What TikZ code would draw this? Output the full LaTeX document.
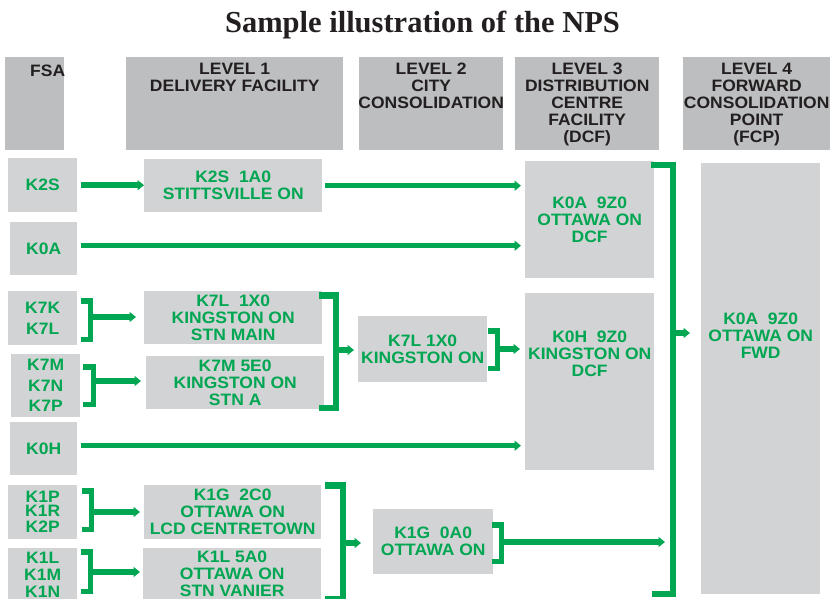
\documentclass[tikz,border=0pt]{standalone}
\usepackage{fontspec}
\setmainfont{Liberation Sans}
\newfontfamily\titlefont{Liberation Serif}
\newfontfamily\boxfont{Liberation Sans}[FakeStretch=1.06]
\usepackage{xcolor}
\usetikzlibrary{arrows.meta}
\usetikzlibrary{positioning}
\definecolor{npsgreen}{HTML}{00A651}
\definecolor{boxgray}{HTML}{D1D3D4}
\definecolor{headgray}{HTML}{BCBEC0}
\definecolor{inkdark}{HTML}{231F20}

\begin{document}
\begin{tikzpicture}[x=1pt, y=-1pt, >={Triangle[length=6.5pt,width=10pt]},
  feed/.style={->, draw=npsgreen, line width=5.5pt},
  brace/.style={draw=npsgreen, line width=5.5pt, line join=miter},
  bigbrace/.style={brace, line width=6.5pt}]
\tikzstyle{box} = [fill=boxgray, anchor=north west, inner sep=0pt, align=center, text=npsgreen, font=\boxfont\fontsize{16.5}{17}\selectfont\bfseries]
\tikzstyle{head} = [fill=headgray, anchor=north west, inner sep=0pt]
\tikzstyle{headtext} = [inner sep=0pt, align=center, text=inkdark, font=\boxfont\fontsize{16.5}{17}\selectfont\bfseries]

\useasboundingbox (0,0) rectangle (830,599);

\node[font=\titlefont\fontsize{30.5}{31}\selectfont\bfseries, text=inkdark, anchor=base] (title) at (422.5,33) {Sample illustration of the NPS};

% column heads
\node[head, minimum width=59pt, minimum height=93pt] (hFSA) at (5,57) {};
\node[head, minimum width=217pt, minimum height=93pt] (hL1) at (126,57) {};
\node[head, minimum width=144pt, minimum height=93pt] (hL2) at (359,57) {};
\node[head, minimum width=144pt, minimum height=93pt] (hL3) at (515,57) {};
\node[head, minimum width=147pt, minimum height=93pt] (hL4) at (683,57) {};
\node[headtext, below right=8pt and 25pt of hFSA.north west] {FSA};
\node[headtext, below=6pt of hL1.north] {LEVEL 1\\DELIVERY FACILITY};
\node[headtext, below=6pt of hL2.north] {LEVEL 2\\CITY\\CONSOLIDATION};
\node[headtext, below=6pt of hL3.north] {LEVEL 3\\DISTRIBUTION\\CENTRE\\FACILITY\\(DCF)};
\node[headtext, below=6pt of hL4.north] {LEVEL 4\\FORWARD\\CONSOLIDATION\\POINT\\(FCP)};

% FSA
\node[box, minimum width=69pt, minimum height=54pt] (fK2S) at (8,158) {K2S};
\node[box, minimum width=67pt, minimum height=53pt] (fK0A) at (10,222) {K0A};
\node[box, minimum width=69pt, minimum height=54pt] (fK7K) at (8,291) {K7K\\[4pt]K7L};
\node[box, minimum width=69pt, minimum height=63pt] (fK7M) at (11,354) {K7M\\[3.5pt]K7N\\[3.5pt]K7P};
\node[box, minimum width=67pt, minimum height=53pt] (fK0H) at (10,422) {K0H};
\node[box, minimum width=69pt, minimum height=54pt] (fK1P) at (8,485) {K1P\\[-3pt]K1R\\[-1pt]K2P};
\node[box, minimum width=69pt, minimum height=54pt] (fK1L) at (8,548) {K1L\\K1M\\K1N};

% level 1
\node[box, minimum width=178pt, minimum height=53pt] (dK2S) at (144,159) {K2S~~1A0\\STITTSVILLE ON};
\node[box, minimum width=178pt, minimum height=53pt] (dK7L) at (144,291) {K7L~~1X0\\KINGSTON ON\\STN MAIN};
\node[box, minimum width=178pt, minimum height=53pt] (dK7M) at (146,356) {K7M 5E0\\KINGSTON ON\\STN A};
\node[box, minimum width=177pt, minimum height=54pt] (dK1G) at (144,485) {K1G~~2C0\\OTTAWA ON\\LCD CENTRETOWN};
\node[box, minimum width=178pt, minimum height=52pt] (dK1L) at (143,548) {K1L 5A0\\OTTAWA ON\\STN VANIER};

% level 2
\node[box, minimum width=129pt, minimum height=66pt] (cK7L) at (358,316) {K7L 1X0\\KINGSTON ON};
\node[box, minimum width=120pt, minimum height=65pt] (cK1G) at (373,509) {K1G~~0A0\\OTTAWA ON};

% level 3 and 4
\node[box, minimum width=129pt, minimum height=117pt] (pK0A) at (525,161) {K0A~~9Z0\\OTTAWA ON\\DCF};
\node[box, minimum width=129pt, minimum height=177pt] (pK0H) at (525,293) {};
\node[box, fill=none, anchor=center] at ([yshift=-61pt]pK0H.north) {K0H~~9Z0\\KINGSTON ON\\DCF};
\node[box, minimum width=119pt, minimum height=431pt] (wK0A) at (701,163) {};
\node[box, fill=none, anchor=center] at ([yshift=-173pt]wK0A.north) {K0A~~9Z0\\OTTAWA ON\\FWD};

% straight feeds
\draw[feed, shorten <=4pt] (fK2S.east) -- (fK2S.east -| dK2S.west);
\draw[feed, shorten <=3pt, shorten >=4pt] (dK2S.east) -- (dK2S.east -| pK0A.west);
\draw[feed, shorten <=4pt, shorten >=4pt] ([yshift=3pt]fK0A.east) -- ([yshift=3pt]fK0A.east -| pK0A.west);
\draw[feed, shorten <=4pt, shorten >=4pt] ([yshift=3pt]fK0H.east) -- ([yshift=3pt]fK0H.east -| pK0H.west);

% brackets
\draw[brace] (81,300.75) -| (90.25,339.25) -- (81,339.25);
\draw[brace] (83,366.75) -| (93.25,404.25) -- (83,404.25);
\draw[bigbrace] (319,295.25) -| (335.75,407.75) -- (319,407.75);
\draw[brace] (488,330.75) -| (497.25,368.25) -- (488,368.25);
\draw[brace] (82,490.75) -| (91.25,529.25) -- (82,529.25);
\draw[brace] (81,551.75) -| (90.25,591.25) -- (81,591.25);
\draw[bigbrace] (325,485.25) -| (342.75,599.5) -- (325,599.5);
\draw[brace] (492,524.75) -| (501.25,561.25) -- (492,561.25);
\draw[bigbrace] (651,165) -| (672.75,594) -- (652,594);

\coordinate (bK7K) at (90,317);
\coordinate (bK7M) at (93,381);
\coordinate (bL1K) at (336,350);
\coordinate (bL2K) at (497,349);
\coordinate (bK1P) at (91,512);
\coordinate (bK1L) at (90,572);
\coordinate (bL1O) at (343,543);
\coordinate (bL2O) at (501,542);
\coordinate (bL3) at (673,333);

\draw[feed, shorten >=8pt] (bK7K) -- (bK7K -| dK7L.west);
\draw[feed, shorten >=5pt] (bK7M) -- (bK7M -| dK7M.west);
\draw[feed, shorten >=4pt] (bL1K) -- (bL1K -| cK7L.west);
\draw[feed, shorten >=5pt] (bL2K) -- (bL2K -| pK0H.west);
\draw[feed, shorten >=4pt] (bK1P) -- (bK1P -| dK1G.west);
\draw[feed, shorten >=3pt] (bK1L) -- (bK1L -| dK1L.west);
\draw[feed, shorten >=12pt] (bL1O) -- (bL1O -| cK1G.west);
\draw[feed, shorten >=36pt] (bL2O) -- (bL2O -| wK0A.west);
\draw[feed, shorten >=11pt] (bL3) -- (bL3 -| wK0A.west);

\end{tikzpicture}
\end{document}
